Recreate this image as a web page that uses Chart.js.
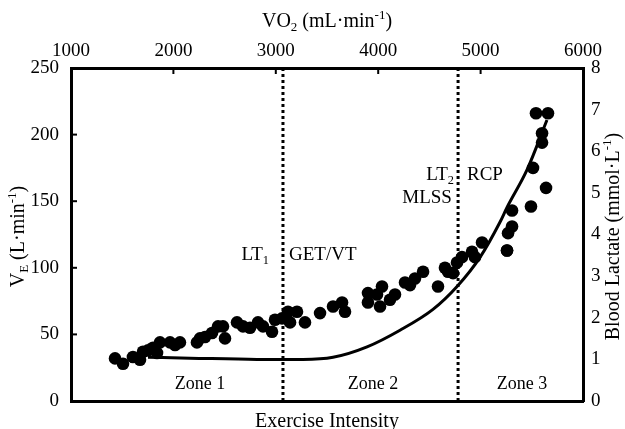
<!DOCTYPE html>
<html>
<head>
<meta charset="utf-8">
<script src="https://cdn.jsdelivr.net/npm/chart.js@4"></script>
<style>
  html, body { margin: 0; padding: 0; background: #fff; }
  #wrap { width: 625px; height: 429px; }
</style>
</head>
<body>
<div id="wrap"><canvas id="chart" width="625" height="429"></canvas></div>
<script>
// VE (L/min) against VO2 (mL/min)
const veVO2 = [1430, 1508, 1605, 1674, 1703, 1752, 1801, 1840, 1869, 1967, 2016, 2064, 2230, 2260, 2309, 2377, 2436, 2484, 2504, 2621,
  2680, 2748, 2826, 2875, 2963, 2992, 3061, 3119, 3139, 3207, 3285, 3432, 3559, 3647, 3676, 3900, 3900, 3988, 4037, 4018,
  4115, 4164, 4262, 4311, 4359, 4438, 4584, 4652, 4682, 4731, 4770, 4818, 4916, 4945, 5014, 5258, 5268, 5307, 5258, 5307,
  5492, 5512, 5600, 5600, 5541, 5658, 5639];
const veValues = [32, 28, 33, 31, 37, 38, 40, 36, 44, 44, 42, 44, 44, 47, 48, 51, 56, 56, 47, 59,
  56, 55, 59, 56, 52, 61, 62, 67, 59, 67, 59, 66, 71, 74, 67, 81, 74, 80, 86, 71,
  76, 80, 89, 87, 92, 97, 86, 100, 97, 96, 104, 108, 112, 108, 119, 113, 126, 131, 113, 143,
  146, 175, 201, 194, 216, 216, 160];

// blood lactate curve (mmol/L)
const lactateVO2 = [1752, 2162, 2816, 3266, 3559, 3891, 4213, 4535, 4770, 4994, 5190, 5258, 5453, 5648];
const lactateValues = [1.05, 1.03, 1.0, 1.0, 1.05, 1.3, 1.7, 2.2, 2.75, 3.45, 4.3, 4.65, 5.55, 6.75];

// LT1 / LT2 thresholds (mL/min)
const thresholds = [3070, 4780];

const FONT = '"Liberation Serif", "Times New Roman", serif';

function drawRich(ctx, parts, x, y, size, align) {
    const widths = parts.map(([t, m]) => {
        ctx.font = (m ? size * 0.65 : size) + 'px ' + FONT;
        return ctx.measureText(t).width;
    });
    const total = widths.reduce((a, b) => a + b, 0);
    let cx = align === 'right' ? x - total : align === 'center' ? x - total / 2 : x;
    ctx.textBaseline = 'alphabetic';
    ctx.textAlign = 'left';
    parts.forEach(([t, m], i) => {
        ctx.font = (m ? size * 0.65 : size) + 'px ' + FONT;
        let dy = 0;
        if (m === 'sub') dy = size * 0.22;
        if (m === 'sup') dy = -size * 0.38;
        ctx.fillText(t, cx, y + dy);
        cx += widths[i];
    });
}

const decorPlugin = {
    id: 'decor',
    afterDraw(chart) {
        const ctx = chart.ctx;
        const area = chart.chartArea;
        const x = chart.scales.x, yVE = chart.scales.yVE;
        ctx.save();
        ctx.fillStyle = '#000';
        ctx.strokeStyle = '#000';

        // inward tick marks on top and left axes
        ctx.lineWidth = 2;
        x.ticks.forEach(t => {
            const px = x.getPixelForValue(t.value);
            ctx.beginPath(); ctx.moveTo(px, area.top); ctx.lineTo(px, area.top + 6); ctx.stroke();
        });
        yVE.ticks.forEach(t => {
            const py = yVE.getPixelForValue(t.value);
            ctx.beginPath(); ctx.moveTo(area.left, py); ctx.lineTo(area.left + 6, py); ctx.stroke();
        });

        // annotations
        const P = (vx, vy) => [x.getPixelForValue(vx), yVE.getPixelForValue(vy)];
        let p;
        p = P(2934, 111); drawRich(ctx, [['LT', ''], ['1', 'sub']], p[0], p[1] + 7, 19, 'right');
        p = P(3129, 111); drawRich(ctx, [['GET/VT', '']], p[0], p[1] + 7, 19, 'left');
        p = P(4740, 171); drawRich(ctx, [['LT', ''], ['2', 'sub']], p[0], p[1] + 7, 19, 'right');
        p = P(4720, 154); drawRich(ctx, [['MLSS', '']], p[0], p[1] + 7, 19, 'right');
        p = P(4867, 171); drawRich(ctx, [['RCP', '']], p[0], p[1] + 7, 19, 'left');
        p = P(2260, 13.5); drawRich(ctx, [['Zone 1', '']], p[0], p[1] + 6, 18, 'center');
        p = P(3950, 13.5); drawRich(ctx, [['Zone 2', '']], p[0], p[1] + 6, 18, 'center');
        p = P(5405, 13.5); drawRich(ctx, [['Zone 3', '']], p[0], p[1] + 6, 18, 'center');

        // axis titles
        const midX = (area.left + area.right) / 2;
        const midY = (area.top + area.bottom) / 2;
        drawRich(ctx, [['VO', ''], ['2', 'sub'], [' (mL\u00b7min', ''], ['-1', 'sup'], [')', '']], midX, 27, 20, 'center');
        drawRich(ctx, [['Exercise Intensity', '']], midX, 427, 20, 'center');

        ctx.save();
        ctx.translate(24, midY + 2);
        ctx.rotate(-Math.PI / 2);
        drawRich(ctx, [['V', ''], ['E', 'sub'], [' (L\u00b7min', ''], ['-1', 'sup'], [')', '']], 0, 0, 20, 'center');
        ctx.restore();

        ctx.save();
        ctx.translate(619, midY + 2);
        ctx.rotate(-Math.PI / 2);
        drawRich(ctx, [['Blood Lactate (mmol\u00b7L', ''], ['-1', 'sup'], [')', '']], 0, 0, 20, 'center');
        ctx.restore();

        ctx.restore();
    }
};

const tickFont = { family: FONT, size: 19 };

new Chart(document.getElementById('chart'), {
    type: 'scatter',
    data: {
        datasets: [
            {
                label: 'VE',
                data: veVO2.map((v, i) => ({ x: v, y: veValues[i] })),
                yAxisID: 'yVE',
                backgroundColor: '#000',
                borderColor: '#000',
                pointRadius: 6.3,
                pointBorderWidth: 0
            },
            {
                type: 'line',
                label: 'Lactate',
                data: lactateVO2.map((v, i) => ({ x: v, y: lactateValues[i] })),
                yAxisID: 'yLa',
                borderColor: '#000',
                borderWidth: 3,
                pointRadius: 0,
                cubicInterpolationMode: 'monotone',
                fill: false
            },
            ...thresholds.map(t => ({
                type: 'line',
                label: 'threshold',
                data: [{ x: t, y: 0 }, { x: t, y: 250 }],
                yAxisID: 'yVE',
                borderColor: '#000',
                borderWidth: 3,
                borderDash: [3, 3],
                pointRadius: 0,
                fill: false
            }))
        ]
    },
    options: {
        responsive: false,
        animation: false,
        layout: { padding: 0 },
        plugins: {
            legend: { display: false },
            tooltip: { enabled: false }
        },
        scales: {
            x: {
                type: 'linear',
                position: 'top',
                min: 1000, max: 6000,
                ticks: { stepSize: 1000, color: '#000', font: tickFont, padding: 6, maxRotation: 0, callback: v => String(v) },
                grid: { drawOnChartArea: false, drawTicks: false },
                border: { color: '#000', width: 3 },
                afterFit: s => { s.height = 68; }
            },
            xBottom: {
                type: 'linear',
                position: 'bottom',
                min: 1000, max: 6000,
                ticks: { display: false },
                grid: { drawOnChartArea: false, drawTicks: false },
                border: { color: '#000', width: 3 },
                afterFit: s => { s.height = 28; }
            },
            yVE: {
                position: 'left',
                min: 0, max: 250,
                ticks: { stepSize: 50, color: '#000', font: tickFont, padding: 12 },
                grid: { drawOnChartArea: false, drawTicks: false },
                border: { color: '#000', width: 3 },
                afterFit: s => { s.width = 71; }
            },
            yLa: {
                position: 'right',
                min: 0, max: 8,
                ticks: { stepSize: 1, color: '#000', font: tickFont, padding: 8 },
                grid: { drawOnChartArea: false, drawTicks: false },
                border: { color: '#000', width: 3 },
                afterFit: s => { s.width = 42; }
            }
        }
    },
    plugins: [decorPlugin]
});
</script>
</body>
</html>
